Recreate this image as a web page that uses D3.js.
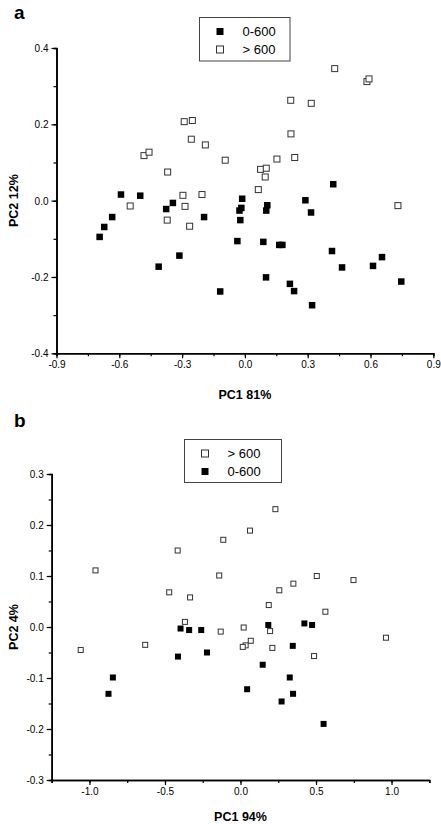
<!DOCTYPE html>
<html><head><meta charset="utf-8">
<script src="https://cdn.jsdelivr.net/npm/d3@7"></script>
<style>body{margin:0;background:#fff}svg{display:block}text{font-family:"Liberation Sans",Arial,sans-serif}</style>
</head><body>
<svg id="c" width="441" height="824"></svg>
<script>
// Panel a data
const aOpen = [[-0.290,0.207],[-0.251,0.210],[-0.256,0.161],[-0.189,0.146],[-0.482,0.118],[-0.458,0.127],[-0.094,0.106],[-0.369,0.075],[-0.296,0.014],[-0.205,0.016],[-0.548,-0.014],[-0.286,-0.015],[-0.371,-0.051],[-0.264,-0.067],[0.429,0.346],[0.583,0.312],[0.593,0.319],[0.219,0.263],[0.317,0.255],[0.220,0.175],[0.153,0.109],[0.238,0.113],[0.075,0.082],[0.102,0.085],[0.097,0.062],[0.064,0.029],[0.731,-0.013]];
const aFilled = [[-0.592,0.016],[-0.500,0.013],[-0.344,-0.006],[-0.376,-0.022],[-0.013,0.005],[-0.017,-0.019],[-0.026,-0.026],[-0.634,-0.043],[-0.672,-0.069],[-0.694,-0.095],[-0.195,-0.043],[-0.022,-0.051],[-0.036,-0.106],[-0.313,-0.144],[-0.412,-0.173],[-0.118,-0.238],[0.422,0.043],[0.107,-0.012],[0.102,-0.026],[0.289,0.001],[0.316,-0.031],[0.088,-0.108],[0.164,-0.116],[0.179,-0.116],[0.416,-0.132],[0.655,-0.148],[0.464,-0.175],[0.612,-0.171],[0.101,-0.201],[0.215,-0.218],[0.235,-0.237],[0.747,-0.212],[0.321,-0.274]];
const aXTicks = [-0.9,-0.6,-0.3,0.0,0.3,0.6,0.9];
const aYTicks = [-0.4,-0.2,0.0,0.2,0.4];
// Panel b data
const bOpen = [[0.231,0.231],[0.063,0.189],[-0.114,0.171],[-0.416,0.150],[-0.960,0.111],[-0.141,0.101],[-0.472,0.068],[-0.334,0.058],[0.505,0.100],[0.350,0.085],[0.257,0.072],[0.748,0.092],[0.187,0.043],[0.562,0.030],[-0.368,0.010],[-0.131,-0.009],[0.021,-0.001],[0.196,-0.008],[0.068,-0.027],[0.034,-0.036],[0.015,-0.039],[0.211,-0.041],[0.963,-0.021],[0.487,-0.057],[-1.058,-0.045],[-0.631,-0.035]];
const bFilled = [[-0.397,-0.003],[-0.340,-0.006],[-0.260,-0.006],[-0.414,-0.058],[-0.222,-0.050],[-0.845,-0.099],[-0.874,-0.131],[0.044,-0.122],[0.184,0.004],[0.423,0.007],[0.474,0.004],[0.346,-0.037],[0.147,-0.074],[0.326,-0.099],[0.348,-0.131],[0.272,-0.146],[0.550,-0.190]];
const bXTicks = [-1.0,-0.5,0.0,0.5,1.0];
const bYTicks = [-0.3,-0.2,-0.1,0.0,0.1,0.2,0.3];
const seriesNames = ["0-600","> 600"];

const svg = d3.select("#c");

function panel(cfg){
  const g = svg.append("g");
  const x = d3.scaleLinear().domain(cfg.xd).range([cfg.x0,cfg.x1]);
  const y = d3.scaleLinear().domain(cfg.yd).range([cfg.y1,cfg.y0]);
  // minor ticks
  const xAx = d3.axisBottom(x).tickValues(cfg.xMinor).tickSize(3).tickFormat("");
  g.append("g").attr("transform",`translate(0,${cfg.y1})`).call(xAx);
  const yAx = d3.axisLeft(y).tickValues(cfg.yMinor).tickSize(3).tickFormat("");
  g.append("g").attr("transform",`translate(${cfg.x0},0)`).call(yAx);
  // major ticks
  const xg = g.append("g").attr("transform",`translate(0,${cfg.y1})`)
    .call(d3.axisBottom(x).tickValues(cfg.xt).tickSize(5).tickSizeOuter(0).tickFormat(d3.format(".1f")).tickPadding(3));
  const yg = g.append("g").attr("transform",`translate(${cfg.x0},0)`)
    .call(d3.axisLeft(y).tickValues(cfg.yt).tickSize(5).tickSizeOuter(0).tickFormat(d3.format(".1f")).tickPadding(3));
  g.selectAll(".domain").attr("stroke","#000").attr("stroke-width",1.6);
  g.selectAll(".tick line").attr("stroke","#000").attr("stroke-width",1.2);
  g.selectAll(".tick text").attr("font-size",10).attr("fill","#000").attr("font-family",'"Liberation Sans",Arial,sans-serif');
  yg.selectAll(".tick text").attr("dy","0.35em");
  g.selectAll(".tick text").text(function(){return this.textContent.replace("\u2212","-");});
  // points
  g.selectAll(".po").data(cfg.open).join("rect")
    .attr("x",d=>x(d[0])-cfg.so/2).attr("y",d=>y(d[1])-cfg.so/2)
    .attr("width",cfg.so).attr("height",cfg.so)
    .attr("fill","#fff").attr("stroke","#333").attr("stroke-width",1);
  g.selectAll(".pf").data(cfg.filled).join("rect")
    .attr("x",d=>x(d[0])-cfg.sf/2).attr("y",d=>y(d[1])-cfg.sf/2)
    .attr("width",cfg.sf).attr("height",cfg.sf)
    .attr("fill","#000");
  // axis labels
  g.append("text").attr("x",(cfg.x0+cfg.x1)/2).attr("y",cfg.xLabY).attr("text-anchor","middle")
    .attr("font-size",12.5).attr("font-weight","bold").text(cfg.xLabel);
  g.append("text").attr("transform",`translate(18,${(cfg.y0+cfg.y1)/2}) rotate(-90)`).attr("text-anchor","middle")
    .attr("font-size",12.5).attr("font-weight","bold").text(cfg.yLabel);
  g.append("text").attr("x",14).attr("y",cfg.titleY).attr("font-size",19).attr("font-weight","bold").text(cfg.title);
  // legend
  const L = cfg.leg;
  g.append("rect").attr("x",L.x).attr("y",L.y).attr("width",L.w).attr("height",L.h)
    .attr("fill","#fff").attr("stroke","#444").attr("stroke-width",1);
  L.items.forEach((it,i)=>{
    const cy = L.y + 14 + i*18;
    g.append("rect").attr("x",L.x+17).attr("y",cy-3.5).attr("width",7).attr("height",7)
      .attr("fill",it.filled?"#000":"#fff").attr("stroke",it.filled?"none":"#333");
    g.append("text").attr("x",L.x+43).attr("y",cy+4.5).attr("font-size",13).text(it.name);
  });
}

panel({xd:[-0.9,0.9],yd:[-0.4,0.4],x0:56.5,x1:433.3,y0:48,y1:353.3,
  xt:aXTicks,yt:aYTicks,
  xMinor:d3.range(-0.9,0.91,0.15),yMinor:d3.range(-0.4,0.41,0.1),
  open:aOpen,filled:aFilled,so:6,sf:6.5,
  xLabel:"PC1 81%",yLabel:"PC2 12%",xLabY:399,title:"a",titleY:19,
  leg:{x:199.5,y:17.5,w:90.5,h:43.5,items:[{name:seriesNames[0],filled:true},{name:seriesNames[1],filled:false}]}});

panel({xd:[-1.25,1.25],yd:[-0.3,0.3],x0:51.7,x1:429.3,y0:474,y1:780,
  xt:bXTicks,yt:bYTicks,
  xMinor:d3.range(-1.25,1.26,0.25),yMinor:d3.range(-0.3,0.31,0.05),
  open:bOpen,filled:bFilled,so:5,sf:6,
  xLabel:"PC1 94%",yLabel:"PC2 4%",xLabY:821,title:"b",titleY:427,
  leg:{x:184.5,y:439.5,w:97,h:43,items:[{name:seriesNames[1],filled:false},{name:seriesNames[0],filled:true}]}});
</script>
</body></html>
